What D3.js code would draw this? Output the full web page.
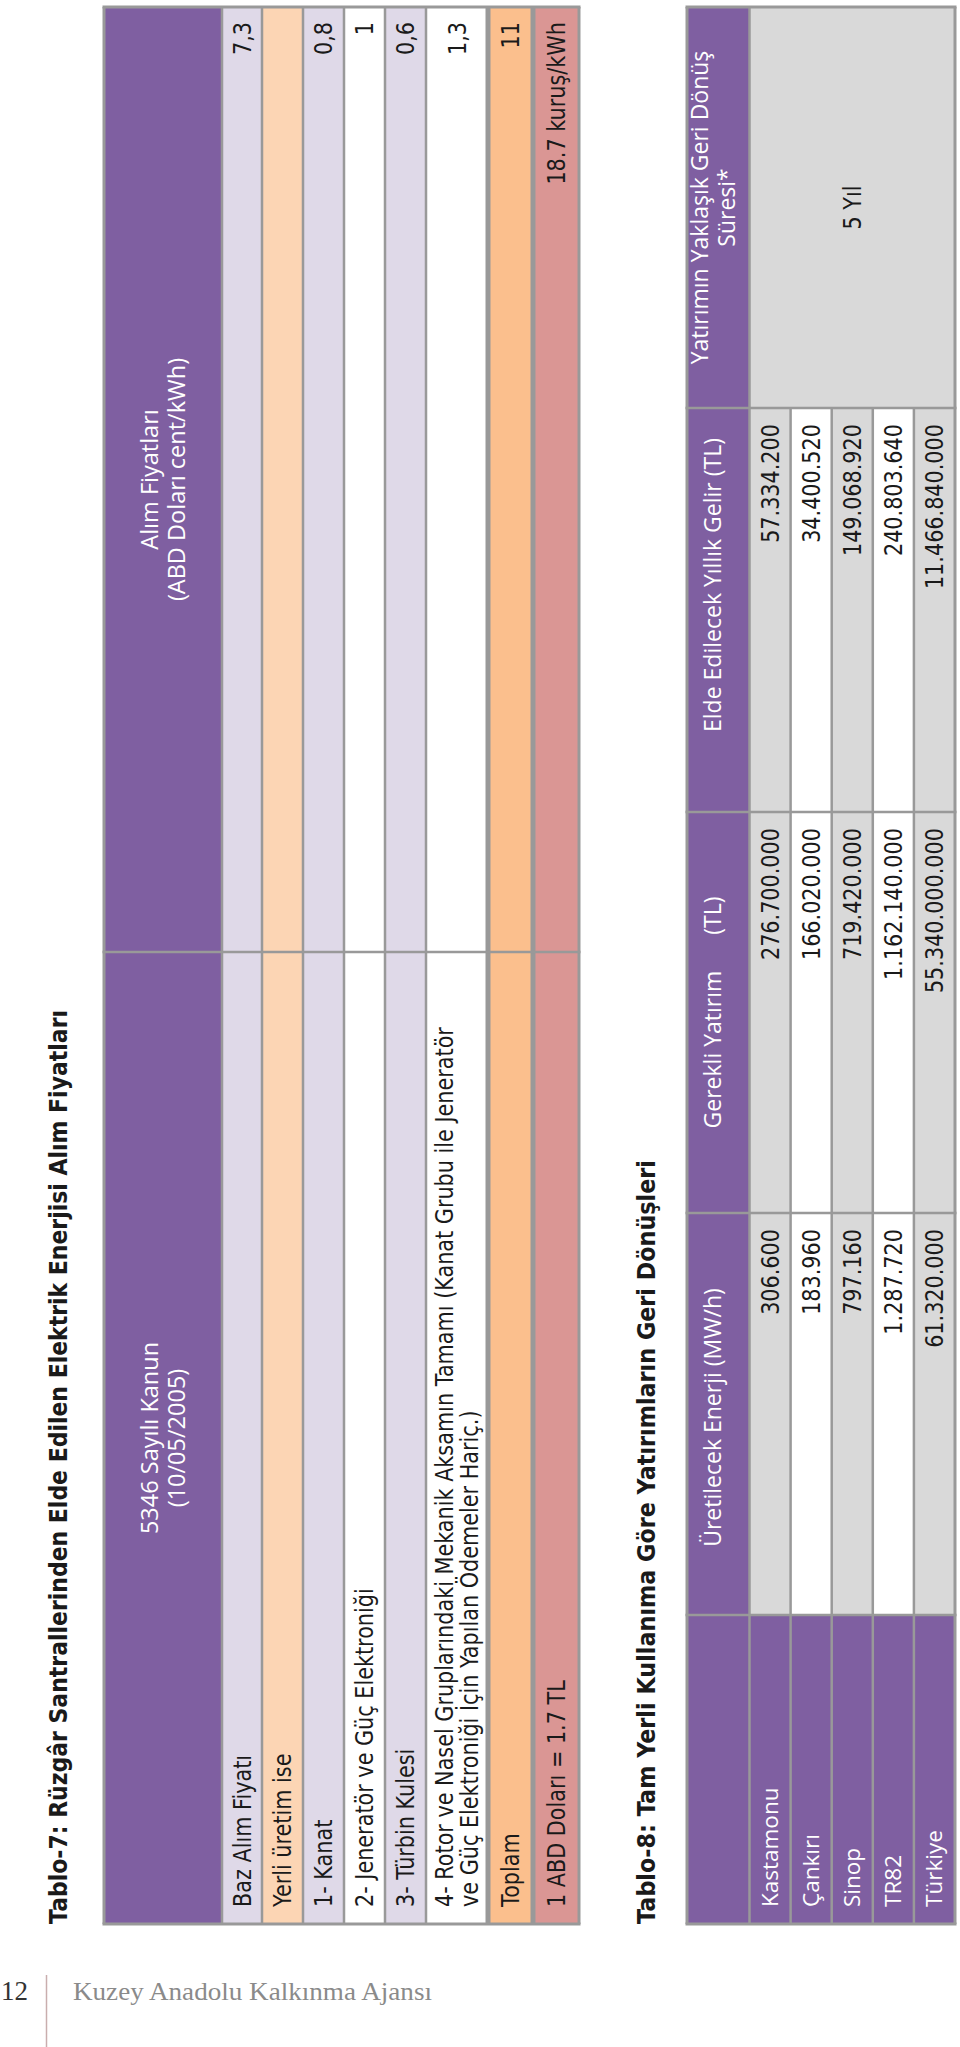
<!DOCTYPE html>
<html><head><meta charset="utf-8">
<script src="https://cdn.jsdelivr.net/npm/d3@7"></script>
<style>html,body{margin:0;padding:0;background:#fff;} svg{display:block}</style>
</head><body>
<svg id="chart" width="960" height="2047"></svg>
<script>
// ---------------- DATA ----------------
const t7Title = "Tablo-7: Rüzgâr Santrallerinden Elde Edilen Elektrik Enerjisi Alım Fiyatları";
const t7HeaderLaw = ["5346 Sayılı Kanun", "(10/05/2005)"];
const t7HeaderPrice = ["Alım Fiyatları", "(ABD Doları cent/kWh)"];
const t7Labels = [
  ["Baz Alım Fiyatı"],
  ["Yerli üretim ise"],
  ["1- Kanat"],
  ["2- Jeneratör ve Güç Elektroniği"],
  ["3- Türbin Kulesi"],
  ["4- Rotor ve Nasel Gruplarındaki Mekanik Aksamın Tamamı (Kanat Grubu ile Jeneratör",
   "ve Güç Elektroniği İçin Yapılan Ödemeler Hariç.)"],
  ["Toplam"],
  ["1 ABD Doları = 1.7 TL"]
];
const t7Values = ["7,3", "", "0,8", "1", "0,6", "1,3", "11", "18.7 kuruş/kWh"];

const t8Title = "Tablo-8: Tam Yerli Kullanıma Göre Yatırımların Geri Dönüşleri";
const t8Headers = [[""], ["Üretilecek Enerji (MW/h)"], ["Gerekli Yatırım      (TL)"],
  ["Elde Edilecek Yıllık Gelir (TL)"], ["Yatırımın Yaklaşık Geri Dönüş", "Süresi*"]];
const t8Regions = ["Kastamonu", "Çankırı", "Sinop", "TR82", "Türkiye"];
const t8Energy = ["306.600", "183.960", "797.160", "1.287.720", "61.320.000"];
const t8Investment = ["276.700.000", "166.020.000", "719.420.000", "1.162.140.000", "55.340.000.000"];
const t8Income = ["57.334.200", "34.400.520", "149.068.920", "240.803.640", "11.466.840.000"];
const t8Payback = "5 Yıl";
const footerPage = "12";
const footerText = "Kuzey Anadolu Kalkınma Ajansı";

// ---------------- LAYOUT / STYLE ----------------
const W = 960, H = 2047;
const GRID = "#999999";
const PURPLE = "#7f5fa1";
const BODY_FONT = "'DejaVu Sans', Verdana, sans-serif";
const HEAD_FONT = "'Open Sans', 'Noto Sans', sans-serif";
const BODY_SIZE = 24, BODY_K = 0.865, BODY_OFF = 8.7;

const T7 = { x0: 123, x1: 2040, xSplit: 1095,
  rows: [104, 222, 262, 303, 344, 385, 426, 488, 533, 579], thick: [7, 8],
  labelX: 140, valueX: 2025, titleY: 67, titleW: 914 };
const t7Fills = [PURPLE, "#dfd9e8", "#fcd5b4", "#dfd9e8", "#ffffff", "#dfd9e8", "#ffffff", "#fbbf8d", "#da9694"];

const T8 = { y0: 687, yHead: 749.5, y1: 955, cols: [123, 432, 834, 1235, 1639, 2040],
  headCenters: [278, 629.5, 1034.5, 1462, 1839.5], labelX: 140, padR: 16, titleY: 655, titleW: 764 };
const t8RowFills = ["#d9d9d9", "#ffffff", "#d9d9d9", "#ffffff", "#d9d9d9"];

const svg = d3.select("#chart");
// page drawn upright then rotated -90deg (reads bottom to top)
const page = svg.append("g").attr("transform", `translate(0,${H}) rotate(-90)`);

function squeeze(sel, k) {
  sel.each(function () {
    const w = this.getComputedTextLength();
    if (w > 0) d3.select(this).attr("textLength", w * k).attr("lengthAdjust", "spacingAndGlyphs");
  });
}

// ================= TABLE 7 =================
const g7 = page.append("g");
const rowIdx = d3.range(t7Fills.length);
const y7 = i => T7.rows[i];

g7.selectAll("rect.row").data(rowIdx).join("rect")
  .attr("x", T7.x0).attr("y", i => y7(i))
  .attr("width", T7.x1 - T7.x0).attr("height", i => y7(i + 1) - y7(i))
  .attr("fill", i => t7Fills[i]);

g7.selectAll("line.h").data(T7.rows).join("line")
  .attr("x1", T7.x0).attr("x2", T7.x1).attr("y1", d => d).attr("y2", d => d)
  .attr("stroke", GRID)
  .attr("stroke-width", (d, i) => T7.thick.includes(i) ? 5 : (i === 0 || i === T7.rows.length - 1 ? 3 : 2.5));
g7.selectAll("line.v").data([T7.x0, T7.xSplit, T7.x1]).join("line")
  .attr("x1", d => d).attr("x2", d => d).attr("y1", T7.rows[0] - 1.5).attr("y2", T7.rows[T7.rows.length - 1] + 1.5)
  .attr("stroke", GRID).attr("stroke-width", (d, i) => i === 1 ? 2.5 : 3);

g7.append("text").attr("x", T7.x0).attr("y", T7.titleY)
  .attr("font-family", BODY_FONT).attr("font-weight", "bold").attr("font-size", 25).attr("fill", "#1a1a1a")
  .attr("textLength", T7.titleW).attr("lengthAdjust", "spacingAndGlyphs")
  .text(t7Title);

const hMid = (T7.rows[0] + T7.rows[1]) / 2;
[[t7HeaderLaw, (T7.x0 + T7.xSplit) / 2], [t7HeaderPrice, (T7.xSplit + T7.x1) / 2]].forEach(([lines, cx]) => {
  g7.selectAll(null).data(lines).join("text")
    .attr("x", cx).attr("y", (d, i) => hMid - 5.5 + i * 27.5)
    .attr("text-anchor", "middle").attr("font-family", HEAD_FONT).attr("font-size", 23.5).attr("fill", "#ffffff")
    .text(d => d);
});

const lineGap = 25;
const labelG = g7.selectAll("g.lab").data(t7Labels).join("g");
labelG.each(function (lines, r) {
  const mid = (y7(r + 1) + y7(r + 2)) / 2;
  const base = mid + BODY_OFF - (lines.length - 1) * lineGap / 2;
  d3.select(this).selectAll("text").data(lines).join("text")
    .attr("x", T7.labelX).attr("y", (d, i) => base + i * lineGap)
    .attr("font-family", BODY_FONT).attr("font-size", BODY_SIZE).attr("fill", "#1a1a1a")
    .text(d => d);
});
squeeze(labelG.selectAll("text"), BODY_K);

const valT = g7.selectAll("text.val").data(t7Values).join("text")
  .attr("x", T7.valueX).attr("y", (d, r) => (y7(r + 1) + y7(r + 2)) / 2 + BODY_OFF)
  .attr("text-anchor", "end").attr("font-family", BODY_FONT).attr("font-size", BODY_SIZE).attr("fill", "#1a1a1a")
  .text(d => d);
squeeze(valT, BODY_K);

// ================= TABLE 8 =================
const g8 = page.append("g");
const yBand = d3.scaleBand().domain(t8Regions).range([T8.yHead, T8.y1]).paddingInner(0);
const cx = T8.cols;

g8.append("rect").attr("x", cx[0]).attr("y", T8.y0).attr("width", cx[5] - cx[0]).attr("height", T8.yHead - T8.y0).attr("fill", PURPLE);
g8.selectAll("rect.reg").data(t8Regions).join("rect")
  .attr("x", cx[0]).attr("y", d => yBand(d)).attr("width", cx[1] - cx[0]).attr("height", yBand.bandwidth()).attr("fill", PURPLE);
g8.selectAll("rect.dat").data(t8Regions).join("rect")
  .attr("x", cx[1]).attr("y", d => yBand(d)).attr("width", cx[4] - cx[1]).attr("height", yBand.bandwidth())
  .attr("fill", (d, i) => t8RowFills[i]);
g8.append("rect").attr("x", cx[4]).attr("y", T8.yHead).attr("width", cx[5] - cx[4]).attr("height", T8.y1 - T8.yHead).attr("fill", "#d9d9d9");

const hLines = [T8.y0, T8.yHead, ...t8Regions.slice(1).map(d => yBand(d)), T8.y1];
g8.selectAll("line.h").data(hLines).join("line")
  .attr("x1", cx[0]).attr("x2", (d, i) => (i === 0 || i === 1 || i === hLines.length - 1) ? cx[5] : cx[4])
  .attr("y1", d => d).attr("y2", d => d)
  .attr("stroke", GRID).attr("stroke-width", (d, i) => (i === 0 || i === hLines.length - 1) ? 3 : 2.5);
g8.selectAll("line.v").data(cx).join("line")
  .attr("x1", d => d).attr("x2", d => d).attr("y1", T8.y0 - 1.5).attr("y2", T8.y1 + 1.5)
  .attr("stroke", GRID).attr("stroke-width", (d, i) => (i === 0 || i === cx.length - 1) ? 3 : 2.5);

g8.append("text").attr("x", cx[0]).attr("y", T8.titleY)
  .attr("font-family", BODY_FONT).attr("font-weight", "bold").attr("font-size", 25).attr("fill", "#1a1a1a")
  .attr("textLength", T8.titleW).attr("lengthAdjust", "spacingAndGlyphs")
  .text(t8Title);

const h8Mid = (T8.y0 + T8.yHead) / 2;
t8Headers.forEach((lines, c) => {
  g8.selectAll(null).data(lines).join("text")
    .attr("x", T8.headCenters[c])
    .attr("y", (d, i) => h8Mid + 3 - (lines.length - 1) * 27 / 2 + i * 27)
    .attr("text-anchor", "middle").attr("font-family", HEAD_FONT).attr("font-size", 23)
    .attr("fill", "#ffffff").style("white-space", "pre")
    .text(d => d);
});

g8.selectAll("text.reg").data(t8Regions).join("text")
  .attr("x", T8.labelX).attr("y", d => yBand(d) + yBand.bandwidth() / 2 + 8)
  .attr("font-family", HEAD_FONT).attr("font-size", 22.5).attr("fill", "#ffffff")
  .text(d => d);

[t8Energy, t8Investment, t8Income].forEach((vals, k) => {
  const t = g8.selectAll(null).data(vals).join("text")
    .attr("x", cx[k + 2] - T8.padR)
    .attr("y", (d, i) => yBand(t8Regions[i]) + yBand.bandwidth() / 2 + BODY_OFF)
    .attr("text-anchor", "end").attr("font-family", BODY_FONT).attr("font-size", BODY_SIZE).attr("fill", "#1a1a1a")
    .text(d => d);
  squeeze(t, BODY_K);
});
const pb = g8.append("text").attr("x", (cx[4] + cx[5]) / 2).attr("y", (T8.yHead + T8.y1) / 2 + BODY_OFF)
  .attr("text-anchor", "middle").attr("font-family", BODY_FONT).attr("font-size", BODY_SIZE).attr("fill", "#1a1a1a")
  .text(t8Payback);
squeeze(pb, BODY_K);

// ================= FOOTER (not rotated) =================
svg.append("text").attr("x", 1).attr("y", 2000)
  .attr("font-family", "'Liberation Serif', 'DejaVu Serif', serif").attr("font-size", 27).attr("fill", "#333333")
  .text(footerPage);
svg.append("line").attr("x1", 46.5).attr("x2", 46.5).attr("y1", 1975).attr("y2", H)
  .attr("stroke", "#c9aeae").attr("stroke-width", 1.5);
svg.append("text").attr("x", 73).attr("y", 2000)
  .attr("font-family", "'Liberation Serif', 'DejaVu Serif', serif").attr("font-size", 26).attr("fill", "#8a8a8a")
  .attr("textLength", 359).attr("lengthAdjust", "spacingAndGlyphs")
  .text(footerText);
</script>
</body></html>
